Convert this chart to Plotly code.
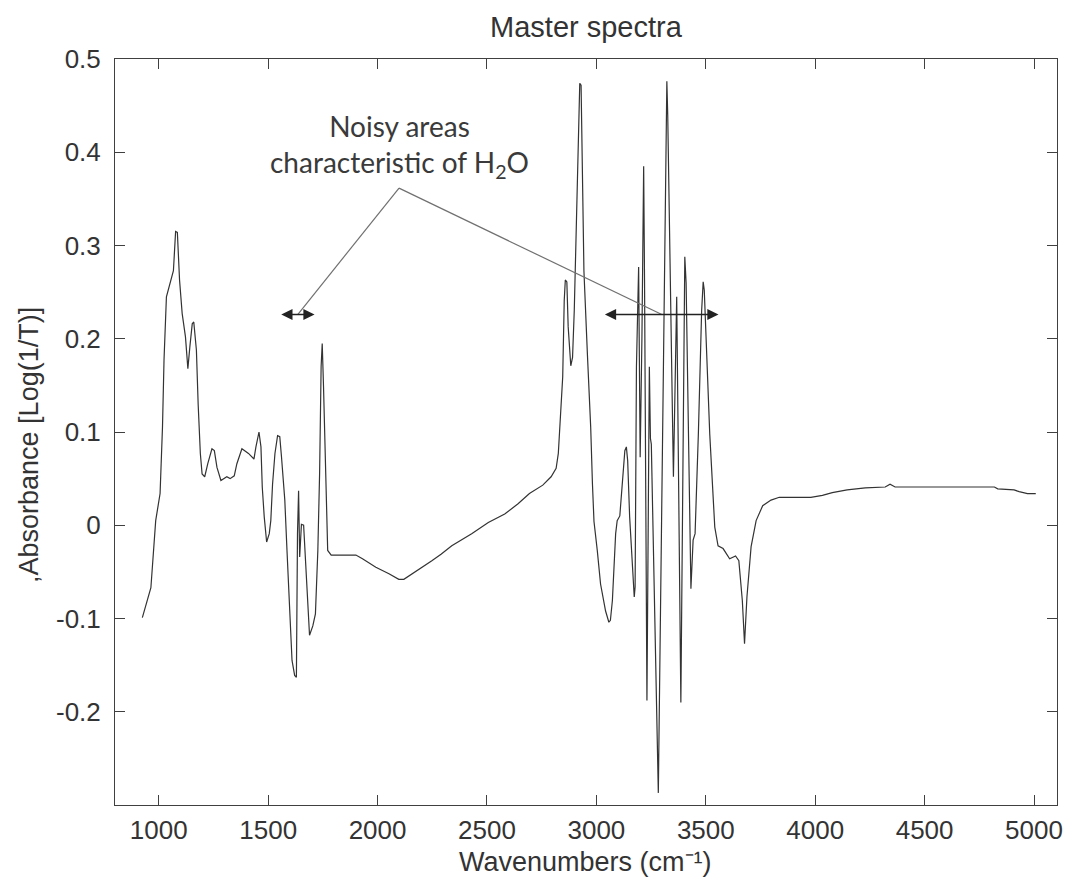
import plotly.graph_objects as go

wavenumbers = [925, 964, 986, 1006, 1017, 1024, 1035, 1054, 1067, 1077, 1085, 1095, 1107, 1122, 1133,
               1142, 1153, 1160, 1172, 1180, 1190, 1198, 1210, 1224, 1243, 1254, 1266, 1284, 1311, 1326,
               1345, 1357, 1380, 1410, 1435, 1444, 1458, 1467, 1473, 1482, 1493, 1505, 1512, 1520, 1531,
               1543, 1553, 1561, 1576, 1586, 1599, 1609, 1621, 1629, 1634, 1639, 1644, 1652, 1662, 1674,
               1689, 1704, 1716, 1727, 1735, 1742, 1747, 1753, 1762, 1772, 1788, 1901, 1931, 1992, 2052,
               2097, 2120, 2173, 2248, 2290, 2339, 2430, 2506, 2581, 2642, 2694, 2755, 2793, 2816, 2826,
               2835, 2846, 2853, 2858, 2865, 2871, 2883, 2891, 2899, 2906, 2915, 2924, 2930, 2937, 2943,
               2959, 2974, 2982, 2989, 3004, 3019, 3042, 3057, 3064, 3073, 3088, 3095, 3107, 3118, 3130,
               3137, 3143, 3152, 3163, 3173, 3177, 3183, 3193, 3200, 3208, 3216, 3220, 3231, 3242, 3247,
               3251, 3283, 3322, 3326, 3352, 3367, 3386, 3404, 3410, 3432, 3442, 3451, 3466, 3481, 3488,
               3493, 3518, 3541, 3556, 3579, 3609, 3636, 3651, 3667, 3677, 3688, 3707, 3730, 3760, 3798,
               3836, 3980, 4033, 4078, 4146, 4229, 4320, 4342, 4365, 4819, 4834, 4909, 4932, 4970, 5008]

absorbance = [-0.099, -0.067, 0.005, 0.034, 0.105, 0.177, 0.245, 0.263, 0.273, 0.315, 0.314, 0.263, 0.227, 0.202, 0.168,
              0.191, 0.216, 0.218, 0.188, 0.130, 0.077, 0.055, 0.052, 0.066, 0.082, 0.080, 0.062, 0.048, 0.052, 0.050,
              0.053, 0.066, 0.082, 0.077, 0.071, 0.084, 0.100, 0.084, 0.041, 0.009, -0.018, -0.009, 0.005, 0.044, 0.077,
              0.096, 0.095, 0.073, 0.027, -0.027, -0.095, -0.145, -0.161, -0.163, -0.009, 0.037, -0.034, 0.001, 0.000, -0.056,
              -0.118, -0.108, -0.095, -0.027, 0.055, 0.170, 0.195, 0.148, 0.055, -0.027, -0.032, -0.032, -0.036, -0.045, -0.052,
              -0.058, -0.058, -0.050, -0.038, -0.031, -0.022, -0.009, 0.003, 0.012, 0.023, 0.034, 0.043, 0.052, 0.061, 0.077,
              0.109, 0.159, 0.241, 0.263, 0.261, 0.213, 0.171, 0.180, 0.231, 0.295, 0.400, 0.474, 0.472, 0.380, 0.273,
              0.183, 0.105, 0.044, 0.004, -0.027, -0.063, -0.092, -0.104, -0.102, -0.081, -0.009, 0.005, 0.010, 0.041, 0.080,
              0.084, 0.069, 0.009, -0.041, -0.077, -0.066, 0.170, 0.277, 0.073, 0.200, 0.385, 0.263, -0.188, 0.170, 0.093,
              0.087, -0.287, 0.476, 0.440, 0.052, 0.245, -0.190, 0.288, 0.260, -0.068, -0.016, -0.009, 0.098, 0.230, 0.261,
              0.252, 0.098, -0.002, -0.022, -0.025, -0.036, -0.033, -0.038, -0.081, -0.127, -0.077, -0.023, 0.005, 0.021, 0.027,
              0.030, 0.030, 0.032, 0.035, 0.038, 0.040, 0.041, 0.044, 0.041, 0.041, 0.039, 0.038, 0.036, 0.034, 0.034]

x_ticks = [1000, 1500, 2000, 2500, 3000, 3500, 4000, 4500, 5000]
y_ticks = [-0.2, -0.1, 0, 0.1, 0.2, 0.3, 0.4, 0.5]
y_ticktext = ["-0.2", "-0.1", "0", "0.1", "0.2", "0.3", "0.4", "0.5"]

annotation_text = "Noisy areas<br>characteristic of H<sub>2</sub>O"
left_band = [1553, 1712]
right_band = [3032, 3558]
arrow_level = 0.226
apex = (2098, 0.3615)
left_target = 1635
right_target = 3299

ink = "#333333"
axis_font = dict(family="Liberation Sans", size=26, color=ink)
title_font = dict(family="Liberation Sans", size=27, color=ink)

fig = go.Figure()
fig.add_trace(go.Scatter(x=wavenumbers, y=absorbance, mode="lines",
                         line=dict(color=ink, width=1.2), showlegend=False))

# leader lines
for tx in (left_target, right_target):
    fig.add_shape(type="line", x0=apex[0], y0=apex[1], x1=tx, y1=arrow_level,
                  line=dict(color="#707070", width=1.2), xref="x", yref="y")

# double-headed arrows
for band in (left_band, right_band):
    fig.add_annotation(x=band[1], y=arrow_level, ax=band[0], ay=arrow_level,
                       xref="x", yref="y", axref="x", ayref="y", text="",
                       showarrow=True, arrowhead=2, arrowside="end+start",
                       arrowsize=1.4, arrowwidth=1.6, arrowcolor="#222222")

fig.add_annotation(x=apex[0], y=0.407, xref="x", yref="y", text=annotation_text,
                   showarrow=False, font=dict(family="Lato", size=28, color="#3a3a3a"),
                   align="center", yanchor="middle")

# axis titles
fig.add_annotation(x=0.499, y=-0.0765, xref="paper", yref="paper", text="Wavenumbers (cm⁻¹)",
                   showarrow=False, font=title_font, xanchor="center", yanchor="middle")
fig.add_annotation(x=-0.0907, y=0.482, xref="paper", yref="paper", text=",Absorbance [Log(1/T)]",
                   showarrow=False, font=title_font, textangle=-90, xanchor="center", yanchor="middle")

fig.update_layout(
    width=1063, height=869,
    margin=dict(l=107, r=8, t=51, b=72),
    paper_bgcolor="white", plot_bgcolor="white",
    title=dict(text="Master spectra", x=0.5437, xanchor="center", y=0.978, yanchor="middle",
               font=dict(family="Liberation Sans", size=29, color=ink)),
    font=axis_font,
)
fig.update_xaxes(range=[800, 5105], tickvals=x_ticks, ticks="inside", ticklen=10, tickcolor="#404040",
                 showline=True, linecolor="#404040", linewidth=1, mirror="ticks", showgrid=False, zeroline=False,
                 tickfont=axis_font, ticklabelstandoff=2)
fig.update_yaxes(range=[-0.3, 0.5], tickvals=y_ticks, ticktext=y_ticktext, ticks="inside", ticklen=10,
                 tickcolor="#404040", showline=True, linecolor="#404040", linewidth=1, mirror="ticks",
                 showgrid=False, zeroline=False, tickfont=axis_font, ticklabelstandoff=8)

fig.write_html("out.html")
